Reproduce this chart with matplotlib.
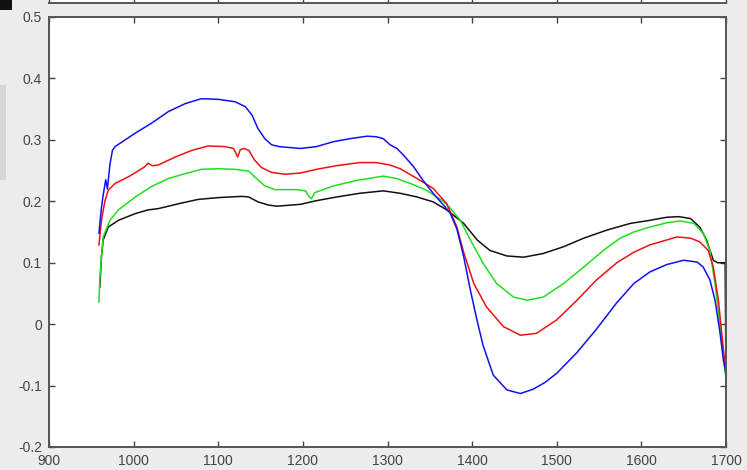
import matplotlib
matplotlib.use("Agg")
import matplotlib.pyplot as plt
from matplotlib.patches import Rectangle

plt.rcParams['font.family'] = ['Liberation Sans', 'DejaVu Sans']

# ---------------- data ----------------
blue_x = [959, 962, 964, 967, 969, 972, 975, 978, 990, 1002, 1021, 1041, 1061, 1080, 1100,
          1120, 1132, 1140, 1147, 1155, 1163, 1172, 1197, 1216, 1236, 1256, 1276, 1287,
          1295, 1303, 1311, 1319, 1331, 1342, 1354, 1366, 1374, 1382, 1390, 1398, 1406,
          1413, 1425, 1441, 1457, 1472, 1486, 1500, 1524, 1547, 1571, 1591, 1610, 1630,
          1650, 1666, 1673, 1681, 1687, 1693, 1697, 1700]
blue_y = [0.148, 0.190, 0.210, 0.235, 0.220, 0.260, 0.283, 0.289, 0.300, 0.311, 0.327, 0.346,
          0.359, 0.367, 0.366, 0.362, 0.354, 0.340, 0.318, 0.302, 0.292, 0.289, 0.286, 0.289,
          0.297, 0.302, 0.306, 0.305, 0.302, 0.292, 0.286, 0.275, 0.256, 0.234, 0.213, 0.194,
          0.181, 0.155, 0.110, 0.055, 0.005, -0.035, -0.083, -0.107, -0.113, -0.106, -0.095,
          -0.080, -0.046, -0.008, 0.035, 0.066, 0.085, 0.097, 0.104, 0.101, 0.093, 0.072,
          0.039, -0.015, -0.059, -0.080]

red_x = [959, 962, 966, 970, 978, 994, 1013, 1017, 1022, 1029, 1049, 1069, 1088, 1108, 1118,
         1121, 1123, 1126, 1130, 1136, 1143, 1151, 1163, 1179, 1197, 1216, 1240, 1267, 1287,
         1303, 1315, 1335, 1354, 1370, 1382, 1390, 1402, 1417, 1437, 1457, 1476, 1500, 1524,
         1547, 1571, 1591, 1610, 1630, 1642, 1658, 1669, 1679, 1685, 1691, 1697, 1700]
red_y = [0.129, 0.169, 0.200, 0.218, 0.229, 0.240, 0.256, 0.262, 0.258, 0.259, 0.272, 0.283,
         0.290, 0.289, 0.286, 0.278, 0.272, 0.284, 0.286, 0.283, 0.267, 0.255, 0.247, 0.244,
         0.246, 0.252, 0.258, 0.263, 0.263, 0.259, 0.253, 0.237, 0.221, 0.196, 0.158, 0.117,
         0.066, 0.028, -0.004, -0.018, -0.015, 0.007, 0.039, 0.072, 0.100, 0.117, 0.129,
         0.137, 0.142, 0.140, 0.134, 0.120, 0.093, 0.039, -0.042, -0.080]

green_x = [959, 960, 962, 964, 972, 982, 1002, 1021, 1041, 1061, 1080, 1100, 1120, 1136, 1143,
           1155, 1167, 1193, 1203, 1207, 1210, 1214, 1236, 1264, 1295, 1311, 1327, 1346, 1366,
           1374, 1386, 1398, 1413, 1429, 1449, 1465, 1484, 1508, 1532, 1555, 1575, 1591, 1610,
           1630, 1646, 1662, 1673, 1681, 1687, 1693, 1699]
green_y = [0.036, 0.072, 0.110, 0.142, 0.169, 0.186, 0.207, 0.224, 0.237, 0.245, 0.252, 0.253,
           0.252, 0.249, 0.240, 0.225, 0.219, 0.219, 0.217, 0.208, 0.204, 0.214, 0.225, 0.234,
           0.241, 0.237, 0.229, 0.218, 0.200, 0.189, 0.169, 0.137, 0.099, 0.066, 0.044, 0.039,
           0.044, 0.066, 0.093, 0.120, 0.140, 0.150, 0.158, 0.165, 0.168, 0.164, 0.148, 0.120,
           0.066, -0.004, -0.080]

black_x = [960, 962, 964, 970, 982, 1002, 1017, 1029, 1053, 1076, 1100, 1128, 1136, 1147, 1159,
           1169, 1197, 1216, 1240, 1267, 1295, 1315, 1335, 1354, 1370, 1390, 1406, 1421, 1441,
           1461, 1484, 1508, 1532, 1559, 1587, 1610, 1630, 1644, 1658, 1669, 1677, 1685, 1690,
           1699, 1700]
black_y = [0.060, 0.110, 0.137, 0.158, 0.169, 0.180, 0.186, 0.188, 0.196, 0.203, 0.206, 0.208,
           0.207, 0.199, 0.194, 0.192, 0.195, 0.201, 0.207, 0.213, 0.217, 0.213, 0.207, 0.199,
           0.186, 0.164, 0.137, 0.120, 0.111, 0.109, 0.115, 0.126, 0.140, 0.153, 0.164, 0.169,
           0.174, 0.175, 0.172, 0.158, 0.137, 0.104, 0.100, 0.100, -0.100]

x_ticks = [900, 1000, 1100, 1200, 1300, 1400, 1500, 1600, 1700]
y_ticks = [-0.2, -0.1, 0, 0.1, 0.2, 0.3, 0.4, 0.5]
y_tick_labels = ['-0.2', '-0.1', '0', '0.1', '0.2', '0.3', '0.4', '0.5']

# ---------------- figure ----------------
W, H = 747, 470
fig = plt.figure(figsize=(W / 100, H / 100), dpi=100, facecolor='#ececec')

# faint left shadow and the top-left dark block of the screenshot
fig.patches.append(Rectangle((0, 1 - 180 / H), 6 / W, 95 / H, transform=fig.transFigure,
                             facecolor='#d6d6d6', edgecolor='none', zorder=0))
fig.patches.append(Rectangle((0, 1 - 10 / H), 12 / W, 10 / H, transform=fig.transFigure,
                             facecolor='#111111', edgecolor='none', zorder=0))

left, right = 49 / W, 726 / W
bottom, top = (H - 447) / H, (H - 17) / H
ax = fig.add_axes([left, bottom, right - left, top - bottom])
ax.set_facecolor('white')

lw = 1.1
ax.plot(black_x, black_y, color='#111111', lw=lw)
ax.plot(green_x, green_y, color='#22dd22', lw=lw)
ax.plot(red_x, red_y, color='#ee1111', lw=lw)
ax.plot(blue_x, blue_y, color='#1111ee', lw=lw)

ax.set_xlim(900, 1700)
ax.set_ylim(-0.2, 0.5)
ax.set_xticks(x_ticks)
ax.set_xticklabels([str(v) for v in x_ticks])
ax.set_yticks(y_ticks)
ax.set_yticklabels(y_tick_labels)
ax.tick_params(direction='in', length=4, width=1, color='#444444', labelsize=10,
               labelcolor='#444444', pad=5, top=True, right=True)
for s in ax.spines.values():
    s.set_color('#555555')
    s.set_linewidth(1.4)

# bottom edge of the neighbouring plot above (cut off at the top of the screenshot)
ax_top = fig.add_axes([left, 1 - 3 / H, right - left, 0.2])
ax_top.set_xlim(900, 1700)
ax_top.set_xticks(x_ticks)
ax_top.set_xticklabels([])
ax_top.set_yticks([])
ax_top.tick_params(direction='in', length=4, width=1, color='#444444')
ax_top.set_facecolor('white')
for k in ['left', 'right', 'top']:
    ax_top.spines[k].set_visible(False)
ax_top.spines['bottom'].set_color('#555555')
ax_top.spines['bottom'].set_linewidth(1.4)

fig.savefig('out.png', dpi=100, facecolor=fig.get_facecolor())
